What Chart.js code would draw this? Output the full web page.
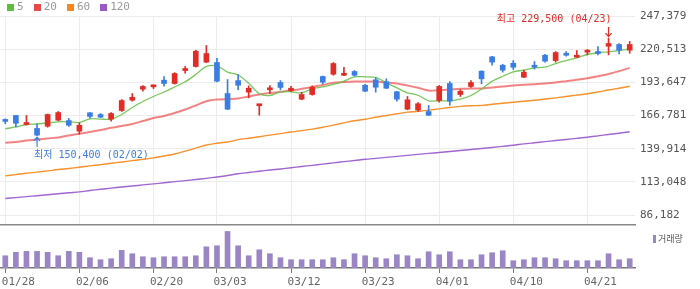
<!DOCTYPE html>
<html>
<head>
<meta charset="utf-8">
<script src="https://cdn.jsdelivr.net/npm/chart.js@4.4.1/dist/chart.umd.min.js"></script>
<style>
html, body { margin: 0; padding: 0; background: #fff; }
#wrap { position: relative; width: 700px; height: 289px; overflow: hidden; font-family: 'DejaVu Sans Mono', 'Noto Sans CJK KR', monospace; }
#legend { position: absolute; left: 7px; top: 1px; display: flex; font-size: 11px; color: #999; line-height: 12px; z-index: 2; }
#legend .item { display: flex; align-items: center; margin-right: 10px; }
#legend i { display: inline-block; width: 7px; height: 7px; margin-right: 3px; }
#priceChart { position: absolute; left: 0; top: 0; }
#volChart { position: absolute; left: 0; top: 225px; }
#volLegend { position: absolute; left: 653px; top: 232px; display: flex; align-items: center; font-size: 9px; color: #555; font-family: 'Noto Sans CJK KR', sans-serif; }
#volLegend i { display: inline-block; width: 3px; height: 8px; margin-right: 2px; background: #9a86c5; }
</style>
</head>
<body>
<div id="wrap">
  <canvas id="priceChart" width="700" height="226"></canvas>
  <canvas id="volChart" width="700" height="64"></canvas>
  <div id="legend"></div>
  <div id="volLegend"><i></i>거래량</div>
</div>
<script>
// trading days
const dates = ['01/28','01/29','01/30','02/02','02/03','02/04','02/05','02/06','02/09','02/10',
  '02/11','02/12','02/13','02/19','02/20','02/23','02/24','02/25','02/26','02/27',
  '03/03','03/04','03/05','03/06','03/09','03/10','03/11','03/12','03/13','03/16',
  '03/17','03/18','03/19','03/20','03/23','03/24','03/25','03/26','03/27','03/30',
  '03/31','04/01','04/02','04/03','04/06','04/07','04/08','04/09','04/10','04/13',
  '04/14','04/15','04/16','04/17','04/20','04/21','04/22','04/23','04/24','04/27'];
const xTickLabels = ['01/28','02/06','02/20','03/03','03/12','03/23','04/01','04/10','04/21'];

const open = [162400,166800,159500,156300,158100,163000,162700,154100,169000,167600,
  163800,170800,179200,188100,190000,195400,192700,203200,206500,210000,
  209700,184600,195100,185700,174700,187600,193500,187000,180000,183800,
  198400,200200,199400,202400,191300,195700,194100,186000,171900,171100,
  170000,178900,192700,183800,190300,202700,214300,207500,209100,197800,
  207500,215600,211300,217200,214000,218100,218600,222900,224300,219700];
const high = [164100,167000,166800,160100,168000,170000,164400,160900,169200,168400,
  169200,179700,184600,191100,191500,198400,201500,206500,219700,223500,
  213000,195900,200000,190800,175700,191100,195100,190500,185700,190800,
  198800,209700,205900,203200,192100,197300,196500,186400,182200,177300,
  174900,191100,194300,187800,195100,203000,214700,208300,211300,203500,
  210500,216400,218600,218600,219400,220200,222700,229500,225100,226800];
const low = [160100,157600,159000,150400,157300,162500,157900,151600,164600,165000,
  162200,170000,178400,186500,188600,190500,192200,201000,206000,209500,
  194000,171500,187800,181100,167000,184600,187600,186000,179500,183200,
  192400,199400,199000,198600,186000,185700,188500,178400,171400,170000,
  166700,177600,175100,182200,189500,192400,207500,201900,204000,197500,
  204300,210000,210000,214800,213700,215900,215900,215900,216700,217200];
const close = [162000,160500,161100,150900,167600,169200,158900,158900,166000,165400,
  168400,178900,181600,190300,190500,192700,200800,204600,218900,217000,
  194600,171900,191300,188900,175300,188900,189500,188900,183800,189700,
  193800,208900,200800,199400,186500,189700,188900,180000,179500,176300,
  167000,190300,178400,186500,193500,196500,210000,203500,205900,201900,
  205900,210800,217800,215600,214300,219700,217000,225100,219700,224300];

const ma5 = [156000,157500,159500,159900,160700,161700,161700,161100,164100,163900,
  163800,167600,173300,178100,182200,185800,189900,194100,200000,206500,
  206900,201900,199600,192900,184400,183000,186000,186000,185200,188400,
  189900,191900,194600,198100,198100,197600,193300,189200,185200,183200,
  178700,178700,178700,180000,183000,188200,194600,198600,202200,203500,
  205400,205900,208900,211300,213500,216200,217600,218400,219400,220800];
const ma20 = [144700,145300,146500,147300,148200,149000,150600,152000,153400,155000,
  156800,158300,159900,162300,164800,166400,168800,171600,174900,178400,
  179700,180100,180600,182200,183800,185000,186000,187000,188400,189900,
  191500,193300,193900,194300,194300,194300,193500,192700,191100,189200,
  187000,187300,187800,188400,188700,188700,189500,190300,191100,191600,
  192100,192700,193500,194600,195700,197000,198600,200400,202700,205400];
const ma60 = [117900,118900,120000,120900,121900,123000,123900,124900,126000,127000,
  128100,129100,130200,131300,132500,134000,135600,137900,140400,142900,
  144300,145300,147200,148400,149600,150900,152100,153400,154500,155800,
  157300,159000,160800,162500,163700,165400,166800,168200,169500,170100,
  171100,172200,173300,174200,174700,175000,175900,176700,177500,178300,
  179100,180100,181100,182200,183300,184400,185800,187400,188900,190500];
const ma120 = [99600,100300,101100,101800,102600,103400,104200,104900,106000,107000,
  108000,108900,109700,110600,111400,112300,113200,114000,114900,115900,
  117000,118200,119600,120600,121600,122600,123500,124500,125500,126400,
  127400,128400,129400,130300,131300,132100,132900,133700,134500,135300,
  136100,136800,137600,138400,139200,140100,140900,141800,142700,143800,
  144700,145600,146500,147400,148300,149200,150300,151400,152400,153600];

const volume = [308,393,418,418,393,308,418,393,258,208,
  233,443,358,283,258,283,283,283,308,533,
  558,918,558,308,458,358,258,208,208,208,
  208,258,208,358,308,258,233,333,308,233,
  408,333,408,208,208,333,383,433,183,208,
  258,258,233,183,183,183,183,358,208,233];

const priceTicks = [86182, 113048, 139914, 166781, 193647, 220513, 247379];

const UP = '#e12d26';
const DOWN = '#3a7ee4';
const FONT = "'DejaVu Sans Mono', 'Noto Sans CJK KR', monospace";
const maLines = [
  { label: '5', data: ma5, color: 'rgba(98,190,66,0.85)', box: '#5dbd3c', width: 1.3 },
  { label: '20', data: ma20, color: 'rgba(236,78,78,0.7)', box: '#e84848', width: 2 },
  { label: '60', data: ma60, color: '#f6912c', box: '#f5881f', width: 1.4 },
  { label: '120', data: ma120, color: '#a266d0', box: '#9b59c7', width: 1.4 }
];

// html legend
const legendEl = document.getElementById('legend');
maLines.forEach(m => {
  const s = document.createElement('span');
  s.className = 'item';
  s.innerHTML = '<i style="background:' + m.box + '"></i>' + m.label;
  legendEl.appendChild(s);
});

Chart.defaults.font.family = FONT;
Chart.defaults.font.size = 11;
Chart.defaults.color = '#555';

const candleColors = close.map((c, i) => c >= open[i] ? UP : DOWN);
const showTick = i => xTickLabels.includes(dates[i]);
const fmt = v => v.toLocaleString('en-US');

function arrow(ctx, x, yFrom, yTo) {
  const dir = yTo > yFrom ? 1 : -1;
  ctx.beginPath();
  ctx.moveTo(x, yFrom);
  ctx.lineTo(x, yTo);
  ctx.moveTo(x - 3, yTo - dir * 3.5);
  ctx.lineTo(x, yTo);
  ctx.lineTo(x + 3, yTo - dir * 3.5);
  ctx.stroke();
}

const hiLoLabels = {
  id: 'hiLoLabels',
  afterDatasetsDraw(chart) {
    const { ctx, scales: { x, y } } = chart;
    const hiIdx = high.indexOf(Math.max(...high));
    const loIdx = low.indexOf(Math.min(...low));
    ctx.save();
    ctx.font = '10px ' + FONT;
    ctx.lineWidth = 1.2;
    ctx.textBaseline = 'middle';

    let px = x.getPixelForValue(hiIdx), py = y.getPixelForValue(high[hiIdx]);
    ctx.strokeStyle = ctx.fillStyle = UP;
    arrow(ctx, px, py - 11, py - 1.5);
    ctx.textAlign = 'right';
    ctx.fillText('최고 ' + fmt(high[hiIdx]) + ' (' + dates[hiIdx] + ')', px + 3, py - 19);

    px = x.getPixelForValue(loIdx); py = y.getPixelForValue(low[loIdx]);
    ctx.strokeStyle = ctx.fillStyle = DOWN;
    arrow(ctx, px, py + 11, py + 1.5);
    ctx.textAlign = 'left';
    ctx.fillText('최저 ' + fmt(low[loIdx]) + ' (' + dates[loIdx] + ')', px - 3, py + 20);
    ctx.restore();
  }
};

new Chart(document.getElementById('priceChart'), {
  type: 'bar',
  data: {
    labels: dates,
    datasets: [
      {
        type: 'bar', label: 'wick',
        data: dates.map((d, i) => [low[i], high[i]]),
        backgroundColor: candleColors, barThickness: 1, grouped: false, order: 0
      },
      {
        type: 'bar', label: 'body',
        data: dates.map((d, i) => [open[i], close[i]]),
        backgroundColor: candleColors, barThickness: 5, minBarLength: 2, grouped: false, order: 0
      }
    ].concat(maLines.map((m, k) => ({
      type: 'line', label: m.label, data: m.data,
      borderColor: m.color, borderWidth: m.width,
      pointRadius: 0, tension: 0.3, fill: false, order: 1 + k
    })))
  },
  options: {
    responsive: false,
    animation: false,
    events: [],
    layout: { padding: { top: 16, left: 0, right: 0, bottom: 1 } },
    plugins: { legend: { display: false }, tooltip: { enabled: false } },
    scales: {
      x: {
        offset: true,
        ticks: { display: false },
        grid: {
          offset: false, drawTicks: false,
          color: ctx => showTick(ctx.index) ? '#ececec' : 'transparent'
        },
        border: { display: true, color: '#888', width: 1.5 }
      },
      y: {
        position: 'right',
        min: 78100,
        max: 247379,
        afterBuildTicks: s => { s.ticks = priceTicks.map(v => ({ value: v })); },
        afterFit: s => { s.width = 65; s.paddingTop = 0; s.paddingBottom = 0; },
        ticks: { callback: v => fmt(v), padding: 5, color: '#555', font: { size: 11 } },
        grid: { color: '#ececec', drawTicks: false },
        border: { display: false }
      }
    }
  },
  plugins: [hiLoLabels]
});

new Chart(document.getElementById('volChart'), {
  type: 'bar',
  data: {
    labels: dates,
    datasets: [{ label: '거래량', data: volume, backgroundColor: '#9a86c5', barThickness: 5 }]
  },
  options: {
    responsive: false,
    animation: false,
    events: [],
    layout: { padding: { top: 2, left: 0, right: 65, bottom: 0 } },
    plugins: { legend: { display: false }, tooltip: { enabled: false } },
    scales: {
      x: {
        offset: true,
        afterFit: s => { s.height = 21; },
        ticks: {
          autoSkip: false, maxRotation: 0, align: 'start', labelOffset: -3.5, padding: 3,
          color: '#666', font: { size: 11 },
          callback: (v, i) => showTick(i) ? dates[i] : ''
        },
        grid: {
          offset: false, drawOnChartArea: false, tickLength: 5,
          tickColor: ctx => showTick(ctx.index) ? '#777' : 'transparent'
        },
        border: { display: true, color: '#777', width: 1.5 }
      },
      y: { display: false, min: 0, max: 1030 }
    }
  }
});
</script>
</body>
</html>
